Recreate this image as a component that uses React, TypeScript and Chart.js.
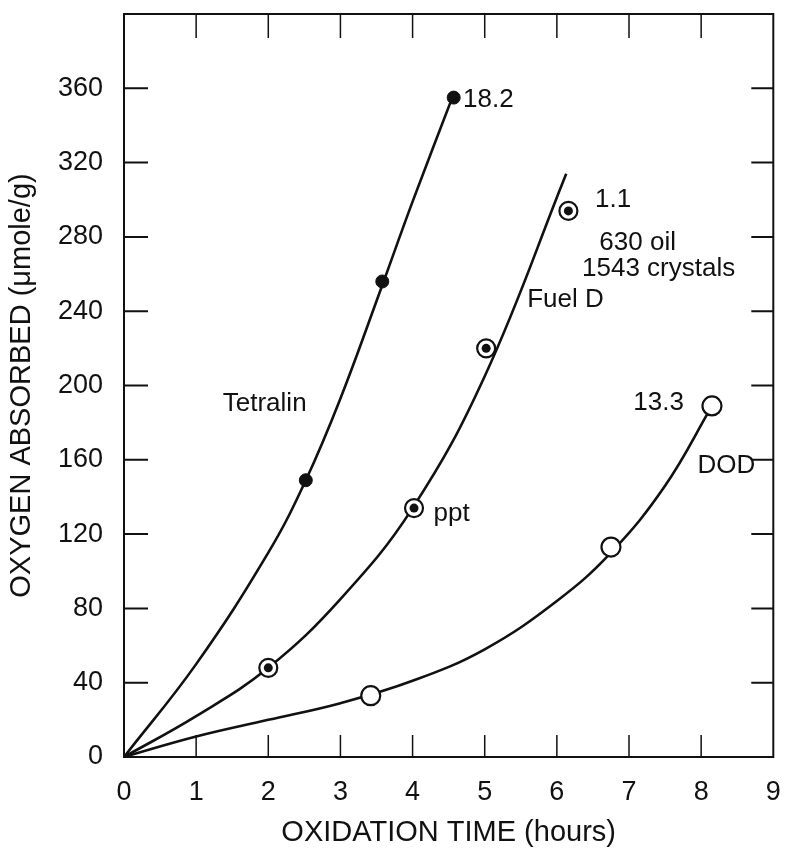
import React, { useEffect, useRef } from "react";
import { Chart, registerables } from "chart.js";

Chart.register(...registerables);

// Curves
const tetralinCurveX = [0, 1, 2, 2.52, 3, 3.58, 4, 4.57];
const tetralinCurveY = [0, 50, 110, 149, 193, 254, 299, 357];
const fuelDCurveX = [0, 1, 2, 3, 4, 5, 6.13];
const fuelDCurveY = [0, 22, 48, 85, 134, 205, 314];
const dodCurveX = [0, 1, 2, 3, 4, 5, 6, 6.75, 7.5, 8.15];
const dodCurveY = [0, 11, 20, 29, 41, 58, 84, 110, 146, 189];

// Measured points
const tetralinPtsX = [2.52, 3.58, 4.57];
const tetralinPtsY = [149, 256, 355];
const fuelDPtsX = [2.0, 4.02, 5.02, 6.16];
const fuelDPtsY = [48, 134, 220, 294];
const dodPtsX = [3.42, 6.75, 8.15];
const dodPtsY = [33, 113, 189];

// Labels in the plot
const labelTexts = ["18.2", "1.1", "630 oil", "1543 crystals", "13.3", "Tetralin", "Fuel D", "ppt", "DOD"];
const labelX = [4.7, 6.53, 7.12, 7.41, 7.76, 1.95, 6.12, 4.29, 8.35];
const labelY = [354, 300, 277, 263, 190.6, 190, 246, 131, 157];
const labelAlign: CanvasTextAlign[] = ["left", "left", "center", "center", "right", "center", "center", "left", "center"];

const xTitle = "OXIDATION TIME (hours)";
const yTitle = "OXYGEN ABSORBED (\u03bcmole/g)";

const FONT = "'Liberation Sans', Arial, Helvetica, sans-serif";

const pts = (xs: number[], ys: number[]) => xs.map((x, i) => ({ x, y: ys[i] }));

const framePlugin = {
  id: "frameTicks",
  afterDatasetsDraw(chart: any) {
    const { ctx, chartArea: a, scales } = chart;
    const xs = scales.x;
    const ys = scales.y;
    ctx.save();
    ctx.strokeStyle = "#111";
    ctx.lineWidth = 2;
    ctx.strokeRect(a.left, a.top, a.right - a.left, a.bottom - a.top);
    ys.ticks.forEach((t: any) => {
      if (t.value <= 0 || t.value >= 400) return;
      const py = ys.getPixelForValue(t.value);
      ctx.lineWidth = 2;
      ctx.beginPath();
      ctx.moveTo(a.left, py);
      ctx.lineTo(a.left + 24, py);
      ctx.moveTo(a.right, py);
      ctx.lineTo(a.right - 22, py);
      ctx.stroke();
    });
    xs.ticks.forEach((t: any) => {
      if (t.value <= 0 || t.value >= 9) return;
      const px = xs.getPixelForValue(t.value);
      ctx.lineWidth = 1.5;
      ctx.beginPath();
      ctx.moveTo(px, a.top);
      ctx.lineTo(px, a.top + 24);
      ctx.moveTo(px, a.bottom);
      ctx.lineTo(px, a.bottom - 22);
      ctx.stroke();
    });
    ctx.fillStyle = "#111";
    ctx.font = `26px ${FONT}`;
    ctx.textBaseline = "middle";
    labelTexts.forEach((txt, i) => {
      ctx.textAlign = labelAlign[i];
      ctx.fillText(txt, xs.getPixelForValue(labelX[i]), ys.getPixelForValue(labelY[i]));
    });
    ctx.restore();
  },
};

export default function App() {
  const ref = useRef<HTMLCanvasElement | null>(null);
  useEffect(() => {
    if (!ref.current) return;
    const lineDs = (data: any) => ({
      type: "line" as const,
      data,
      showLine: true,
      borderColor: "#111",
      borderWidth: 2.6,
      pointRadius: 0,
      tension: 0.4,
      fill: false,
    });
    const chart = new Chart(ref.current, {
      type: "scatter",
      data: {
        datasets: [
          {
            data: pts(fuelDPtsX, fuelDPtsY),
            pointRadius: 4.5,
            pointBackgroundColor: "#111",
            pointBorderColor: "#111",
            pointBorderWidth: 0,
          },
          {
            data: pts(fuelDPtsX, fuelDPtsY),
            pointRadius: 9,
            pointBackgroundColor: "#fff",
            pointBorderColor: "#111",
            pointBorderWidth: 2.2,
          },
          {
            data: pts(tetralinPtsX, tetralinPtsY),
            pointRadius: 6.5,
            pointBackgroundColor: "#111",
            pointBorderColor: "#111",
            pointBorderWidth: 1,
          },
          {
            data: pts(dodPtsX, dodPtsY),
            pointRadius: 9.5,
            pointBackgroundColor: "#fff",
            pointBorderColor: "#111",
            pointBorderWidth: 2.2,
          },
          lineDs(pts(tetralinCurveX, tetralinCurveY)),
          lineDs(pts(fuelDCurveX, fuelDCurveY)),
          lineDs(pts(dodCurveX, dodCurveY)),
        ] as any,
      },
      options: {
        animation: false,
        responsive: true,
        maintainAspectRatio: false,
        layout: { padding: { left: 0, top: 14, right: 0, bottom: 0 } },
        plugins: { legend: { display: false }, tooltip: { enabled: false } },
        scales: {
          x: {
            type: "linear",
            min: 0,
            max: 9,
            ticks: {
              stepSize: 1,
              padding: 19,
              color: "#111",
              font: { family: FONT, size: 27 },
              maxRotation: 0,
            },
            grid: { display: false, drawTicks: false },
            border: { display: false },
            title: {
              display: true,
              text: xTitle,
              color: "#111",
              font: { family: FONT, size: 29 },
              padding: { top: 0, bottom: 5 },
            },
            afterFit: (s: any) => {
              s.height = 98;
              s.paddingLeft = 0;
              s.paddingRight = 0;
            },
          },
          y: {
            type: "linear",
            min: 0,
            max: 400,
            ticks: {
              stepSize: 40,
              padding: 21,
              color: "#111",
              font: { family: FONT, size: 27 },
              callback: (v: any) => (v === 400 ? "" : String(v)),
            },
            grid: { display: false, drawTicks: false },
            border: { display: false },
            title: {
              display: true,
              text: yTitle,
              color: "#111",
              font: { family: FONT, size: 29 },
              padding: { top: 5, bottom: 0 },
            },
            afterFit: (s: any) => {
              s.width = 124;
              s.paddingTop = 0;
              s.paddingBottom = 0;
            },
          },
        },
      },
      plugins: [framePlugin],
    });
    return () => chart.destroy();
  }, []);
  return (
    <div style={{ position: "fixed", left: 0, top: 0, width: 785, height: 855, background: "#fff" }}>
      <canvas ref={ref} />
    </div>
  );
}
